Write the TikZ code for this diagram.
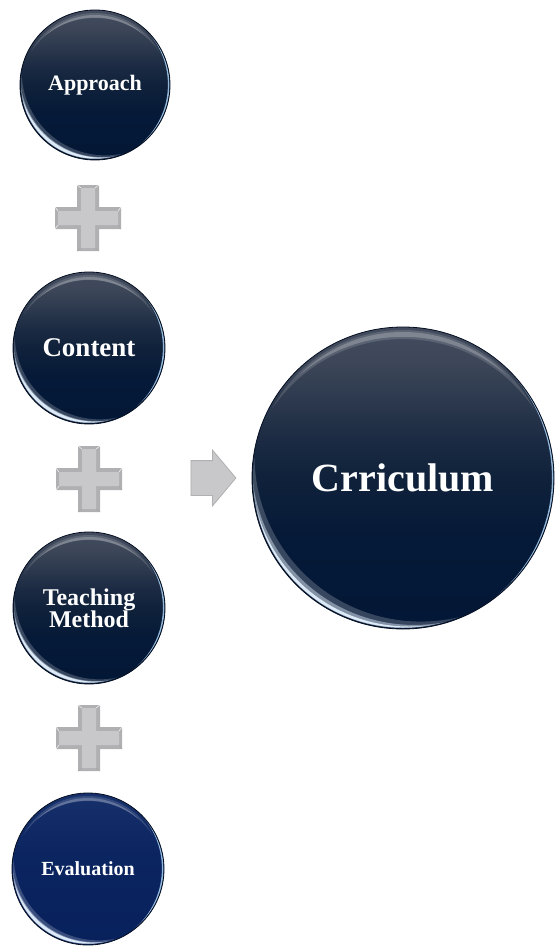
\documentclass[tikz,border=0pt]{standalone}
\usepackage{fontspec}
\setmainfont{Liberation Serif}
\usetikzlibrary{shapes.arrows}
\definecolor{plusedge}{RGB}{176,176,178}
\definecolor{plusface}{RGB}{200,200,202}
\definecolor{rimblue}{RGB}{170,210,245}
\definecolor{glowwhite}{RGB}{225,238,252}
\definecolor{btnrim}{RGB}{4,14,32}
\pgfdeclareverticalshading{btnshade}{100bp}{
  rgb(0bp)=(0.012,0.09,0.21); rgb(25bp)=(0.012,0.09,0.21); rgb(40bp)=(0.02,0.10,0.22);
  rgb(50bp)=(0.06,0.13,0.23); rgb(56bp)=(0.105,0.165,0.26); rgb(69bp)=(0.235,0.275,0.345);
  rgb(75bp)=(0.26,0.30,0.37); rgb(100bp)=(0.26,0.30,0.37)}
\pgfdeclareverticalshading{evshade}{100bp}{
  rgb(0bp)=(0.03,0.13,0.36); rgb(25bp)=(0.03,0.13,0.36); rgb(55bp)=(0.045,0.145,0.38);
  rgb(75bp)=(0.09,0.19,0.42); rgb(100bp)=(0.09,0.19,0.42)}
% lune highlight inside a button: #1 outer radius, #2 thickness, #3 half angle,
% #4 direction of lune centre, #5 colour, #6 opacity
\newcommand\btnlune[6]{%
  \pgfmathsetmacro\btnA{#1}%
  \pgfmathsetmacro\btnT{#2}%
  \pgfmathsetmacro\btnD{(2*\btnA*\btnT-\btnT*\btnT)/(2*\btnA*(1-cos(#3))-2*\btnT)}%
  \pgfmathsetmacro\btnR{\btnA-\btnT+\btnD}%
  \pgfmathsetmacro\btnDir{#4+180}%
  \begin{scope}
    \clip (path picture bounding box.center) circle[radius={\btnA pt}];
    \fill[#5, opacity=#6, even odd rule] (path picture bounding box.center) circle[radius={\btnA pt+2pt}]
      ([shift={(\btnDir:\btnD pt)}]path picture bounding box.center) circle[radius={\btnR pt}];
  \end{scope}}
\tikzset{
  btn/.style={circle, inner sep=0pt, minimum size={2*#1pt}, shading=btnshade,
    draw=btnrim, line width=.8pt,
    text=white, align=center, font=\bfseries,
    path picture={
      \btnlune{#1-1}{#1*0.07+2}{60}{232}{white}{.2}
      \btnlune{#1-1}{#1*0.035+1.5}{52}{234}{glowwhite}{.45}
      \btnlune{#1-1.5}{2.8}{44}{236}{glowwhite}{.95}
      \btnlune{#1-0.5}{1.6}{45}{-5}{rimblue}{.85}
      \btnlune{#1-3}{#1*0.06}{62}{90}{white}{.14}
      \btnlune{#1-5}{#1*0.025+1}{45}{90}{white}{.22}
    }},
  evbtn/.style={btn=#1, shading=evshade},
  plussign/.pic={
    \fill[plusedge] (-33,-11) -- (-11,-11) -- (-11,-33) -- (11,-33) -- (11,-11) -- (33,-11)
      -- (33,11) -- (11,11) -- (11,33) -- (-11,33) -- (-11,11) -- (-33,11) -- cycle;
    \fill[plusface] (-30,-7) -- (-7,-7) -- (-7,-30) -- (7,-30) -- (7,-7) -- (30,-7)
      -- (30,7) -- (7,7) -- (7,30) -- (-7,30) -- (-7,7) -- (-30,7) -- cycle;
    \draw[white, opacity=.8, line width=.6pt] (-33,11) -- (-30,7) (-11,33) -- (-7,30) (11,33) -- (7,30)
      (-33,-11) -- (-30,-7) (33,11) -- (30,7);
    \draw[gray!70, line width=.5pt] (-11,-33) -- (-7,-30) (11,-33) -- (7,-30) (33,-11) -- (30,-7);
  },
  arrowshape/.style={single arrow, fill=plusface, draw=plusedge, line width=.8pt,
    inner xsep=0pt, inner ysep=17pt, anchor=tail,
    minimum height=45pt, single arrow head extend=10.5pt, single arrow tip angle=100}
}
\begin{document}
\begin{tikzpicture}[x=1pt,y=1pt]
\useasboundingbox (0,0) rectangle (557,-952);
\node[btn=75] (approach) at (95,-85) {\fontsize{22}{24}\selectfont Approach};
\node[btn=76] (content) at (89,-348) {\fontsize{27}{29}\selectfont Content};
\node[btn=76] (teaching) at (89,-608) {\fontsize{24}{24}\selectfont Teaching\\[-1pt]\fontsize{24}{24}\selectfont Method};
\node[evbtn=76] (evaluation) at (88,-869) {\fontsize{20}{22}\selectfont Evaluation};
\node[btn=151] (curriculum) at (403,-478) {\fontsize{40}{42}\selectfont Crriculum};
\coordinate (p1) at (88,-218);
\coordinate (p2) at (89,-479);
\coordinate (p3) at (89,-738);
\pic at (p1) {plussign};
\pic at (p2) {plussign};
\pic at (p3) {plussign};
\node[arrowshape] (arrow) at (190.5,-478) {};
\end{tikzpicture}
\end{document}
